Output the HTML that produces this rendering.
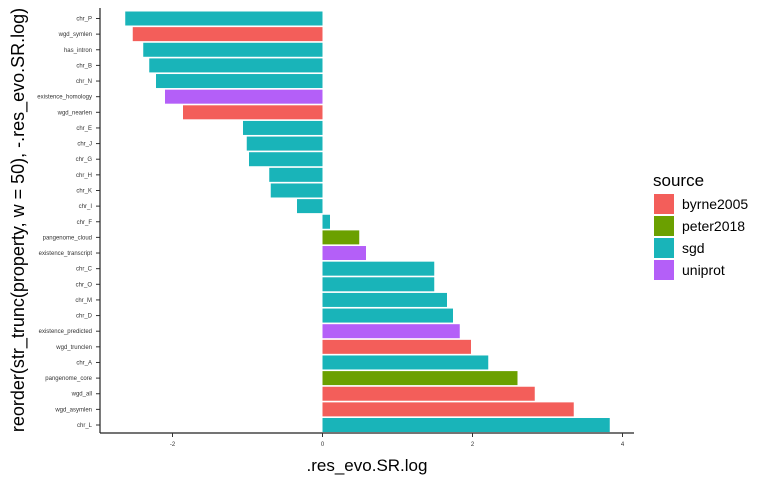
<!DOCTYPE html>
<html><head><meta charset="utf-8"><style>
body{margin:0;background:#fff;}
svg{font-family:"Liberation Sans",Arial,sans-serif;}
</style></head><body>
<svg id="c" width="768" height="480"></svg>
<script>
const categories=["chr_P","wgd_symlen","has_intron","chr_B","chr_N","existence_homology","wgd_nearlen","chr_E","chr_J","chr_G","chr_H","chr_K","chr_I","chr_F","pangenome_cloud","existence_transcript","chr_C","chr_O","chr_M","chr_D","existence_predicted","wgd_trunclen","chr_A","pangenome_core","wgd_all","wgd_asymlen","chr_L"];
const values=[-2.63,-2.53,-2.39,-2.31,-2.22,-2.1,-1.86,-1.06,-1.01,-0.98,-0.71,-0.69,-0.34,0.1,0.49,0.58,1.49,1.49,1.66,1.74,1.83,1.98,2.21,2.6,2.83,3.35,3.83];
const sources=["sgd","byrne2005","sgd","sgd","sgd","uniprot","byrne2005","sgd","sgd","sgd","sgd","sgd","sgd","sgd","peter2018","uniprot","sgd","sgd","sgd","sgd","uniprot","byrne2005","sgd","peter2018","byrne2005","byrne2005","sgd"];
const legendNames=["byrne2005","peter2018","sgd","uniprot"];
const xTicks=[-2,0,2,4];
const colors={byrne2005:"#F35E5A",peter2018:"#6BA000",sgd:"#19B4B9",uniprot:"#B45FF8"};
const svg=document.getElementById('c');const NS="http://www.w3.org/2000/svg";
function mk(t,a,p){const e=document.createElementNS(NS,t);for(const k in a)e.setAttribute(k,a[k]);(p||svg).appendChild(e);return e;}
const x=v=>322.5+v*75;
const y=i=>18.5+i*15.635;
const bh=14;
categories.forEach((c,i)=>{
  const v=values[i];
  const r=mk('rect',{x:Math.min(x(0),x(v)),y:y(i)-bh/2,width:Math.abs(x(v)-x(0)),height:bh,fill:colors[sources[i]]});
  
  
  const t=mk('text',{x:92,y:y(i)+2,'font-size':6,'text-anchor':'end',fill:'#333'});t.textContent=c;
  
  
  mk('line',{x1:96,x2:100,y1:y(i),y2:y(i),stroke:'#333','stroke-width':1});
});
const ax=mk('line',{x1:100,x2:634,y1:433,y2:433,stroke:'#222','stroke-width':1.2});

const ay=mk('line',{x1:100,x2:100,y1:8,y2:433,stroke:'#222','stroke-width':1.2});

xTicks.forEach(v=>{
  mk('line',{x1:x(v),x2:x(v),y1:433,y2:437,stroke:'#333'});
  const t=mk('text',{x:x(v),y:446,'font-size':6,'text-anchor':'middle',fill:'#333'});t.textContent=v;
  
  
});
const xt=mk('text',{x:367,y:471,'font-size':17,'text-anchor':'middle',fill:'#000'});xt.textContent='.res_evo.SR.log';

const yt=mk('text',{x:0,y:0,'font-size':18,'text-anchor':'middle',fill:'#000',transform:'translate(24,220) rotate(-90)'});yt.textContent='reorder(str_trunc(property, w = 50), -.res_evo.SR.log)';

const lt=mk('text',{x:653,y:186,'font-size':17,fill:'#000'});lt.textContent='source';

legendNames.forEach((n,i)=>{
  const g=mk('g',{});
  
  
  mk('rect',{x:654,y:194+i*22,width:20,height:20,fill:colors[n]},g);
  const t=mk('text',{x:682,y:209+i*22,'font-size':14,fill:'#000'},g);t.textContent=n;
});
</script>
</body></html>
